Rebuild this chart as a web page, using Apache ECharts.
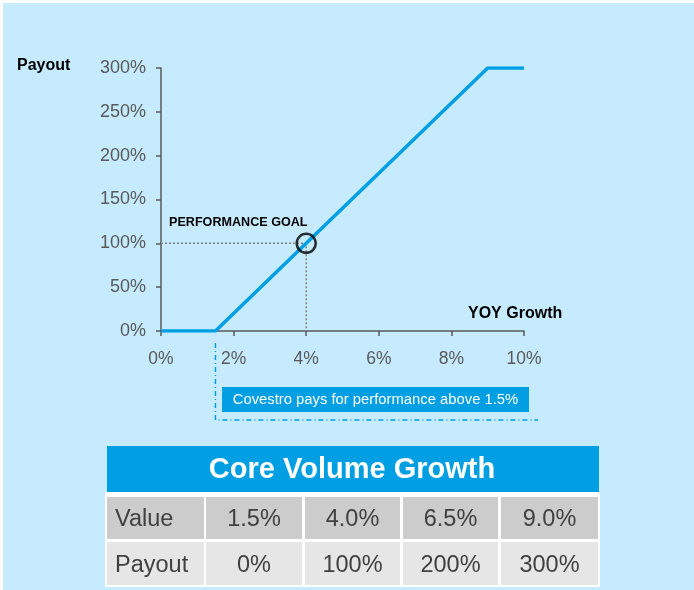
<!DOCTYPE html>
<html>
<head>
<meta charset="UTF-8">
<title>Payout curve</title>
<script src="https://cdn.jsdelivr.net/npm/echarts@6/dist/echarts.min.js"></script>
<style>
  html, body { margin: 0; padding: 0; background: #ffffff; }
  #main { width: 694px; height: 590px; }
</style>
</head>
<body>
<div id="main"></div>
<script>
// payout curve (x = YOY growth %, y = payout %)
var growth = [0, 1.5, 4, 6.5, 9, 10];
var payout = [0, 0, 100, 200, 300, 300];
// performance goal
var goalX = 4, goalY = 100;
// table values
var tableTitle = 'Core Volume Growth';
var tableGrowth = [1.5, 4.0, 6.5, 9.0];
var tablePayout = [0, 100, 200, 300];
var thresholdX = 1.5;

var blue = '#009fe3';
var bg = '#c6ebfe';
var font = 'Liberation Sans, Arial, sans-serif';

var chart = echarts.init(document.getElementById('main'));

var curve = growth.map(function (g, i) { return [g, payout[i]]; });
var guide = [[0, goalY], [goalX, goalY], [goalX, 0]];

var option = {
  backgroundColor: '#ffffff',
  animation: false,
  grid: { left: 161, top: 68, width: 363, height: 263 },
  xAxis: {
    type: 'value', min: 0, max: 10, interval: 2,
    axisLine: { lineStyle: { color: '#595959', width: 1.5 } },
    axisTick: { show: true, length: 5, lineStyle: { color: '#595959', width: 1.5 } },
    axisLabel: { formatter: '{value}%', color: '#595959', fontSize: 17.5, fontFamily: font, margin: 19 },
    splitLine: { show: false }
  },
  yAxis: {
    type: 'value', min: 0, max: 300, interval: 50,
    axisLine: { show: true, lineStyle: { color: '#595959', width: 1.5 } },
    axisTick: { show: true, length: 5, lineStyle: { color: '#595959', width: 1.5 } },
    axisLabel: { formatter: '{value}%', color: '#595959', fontSize: 18, fontFamily: font, margin: 15 },
    splitLine: { show: false }
  },
  series: [
    {
      type: 'line', data: guide, showSymbol: false, z: 1,
      lineStyle: { color: '#808080', width: 1.5, type: [2, 2] }
    },
    {
      type: 'line', data: curve, showSymbol: false, z: 2,
      lineStyle: { color: blue, width: 3.5 }
    },
    {
      type: 'scatter', data: [[goalX, goalY]], symbol: 'circle', symbolSize: 19, z: 3,
      itemStyle: { color: 'rgba(0,0,0,0)', borderColor: '#000000', borderWidth: 2.5 }
    }
  ]
};
chart.setOption(option);

// annotation + table built from the data arrays
var tx = chart.convertToPixel({ xAxisIndex: 0 }, thresholdX);
var g = [];
g.push({ type: 'rect', z: -10, shape: { x: 3, y: 3, width: 691, height: 587 }, style: { fill: bg } });
g.push({ type: 'text', left: 17, top: 58, style: { text: 'Payout', font: 'bold 16px ' + font, fill: '#000' } });
g.push({ type: 'text', left: 468, top: 306, style: { text: 'YOY Growth', font: 'bold 16px ' + font, fill: '#000' } });
g.push({ type: 'text', left: 169, top: 216, style: { text: 'PERFORMANCE GOAL', font: 'bold 12.6px ' + font, fill: '#000' } });

// dash-dot bracket
g.push({ type: 'polyline', shape: { points: [[tx, 343], [tx, 420], [538, 420]] },
  style: { stroke: blue, lineWidth: 1.5, fill: null, lineDash: [5, 3, 1, 3] } });
g.push({ type: 'rect', shape: { x: 222, y: 387, width: 307, height: 25 }, style: { fill: blue } });
g.push({ type: 'text', x: 375.5, y: 400, style: { text: 'Covestro pays for performance above ' + thresholdX.toFixed(1) + '%',
  font: '14.8px ' + font, fill: '#fff', align: 'center', verticalAlign: 'middle' } });

// table
g.push({ type: 'rect', shape: { x: 107, y: 446, width: 492, height: 46 }, style: { fill: blue } });
g.push({ type: 'text', x: 352, y: 470, style: { text: tableTitle, font: 'bold 29px ' + font, fill: '#fff', align: 'center', verticalAlign: 'middle' } });
g.push({ type: 'rect', shape: { x: 105, y: 492, width: 495, height: 95 }, style: { fill: '#ffffff' } });

var colX = [107, 206, 305, 403, 501];
var colW = [97, 96, 95, 95, 97];
var rows = [
  { y: 497, h: 42, fill: '#cccccc', label: 'Value', vals: tableGrowth.map(function (v) { return v.toFixed(1) + '%'; }) },
  { y: 542, h: 43, fill: '#e6e6e6', label: 'Payout', vals: tablePayout.map(function (v) { return v + '%'; }) }
];
rows.forEach(function (r) {
  for (var c = 0; c < 5; c++) {
    g.push({ type: 'rect', shape: { x: colX[c], y: r.y, width: colW[c], height: r.h }, style: { fill: r.fill } });
    var txt = c === 0 ? r.label : r.vals[c - 1];
    g.push({ type: 'text', x: c === 0 ? colX[0] + 8 : colX[c] + colW[c] / 2, y: r.y + r.h / 2 + 2,
      style: { text: txt, font: '23.5px ' + font, fill: '#404040', align: c === 0 ? 'left' : 'center', verticalAlign: 'middle' } });
  }
});

chart.setOption({ graphic: g });
</script>
</body>
</html>
